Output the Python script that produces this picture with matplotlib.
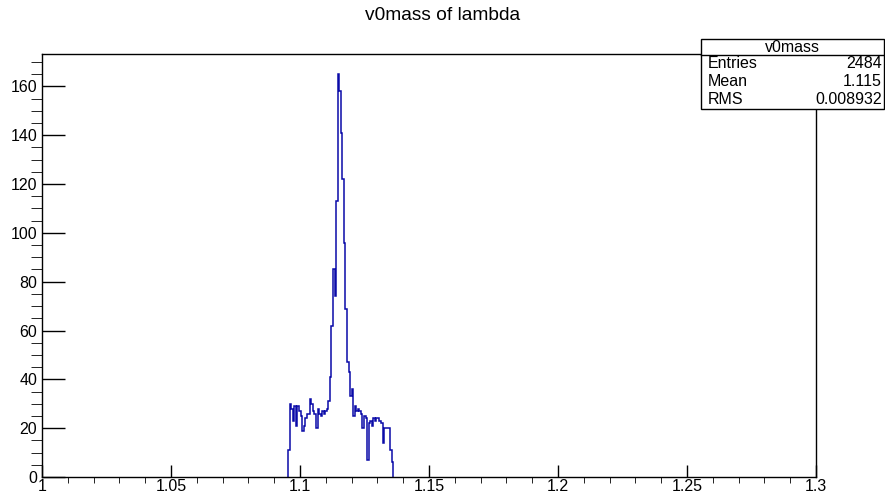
import numpy as np
import matplotlib
matplotlib.use("Agg")
import matplotlib.pyplot as plt
from matplotlib.patches import Rectangle
from matplotlib.ticker import MultipleLocator, FormatStrFormatter

# histogram v0mass (500 bins over 1..1.3, only filled bins listed)
bin_lo = 1.0954
bin_width = 0.0006
counts = [11, 30, 28, 23, 29, 21, 29, 27, 25, 19, 21, 24, 26, 26, 32, 30, 27, 26, 20, 28,
          26, 25, 27, 26, 27, 28, 31, 41, 62, 85, 74, 113, 165, 158, 141, 122, 96, 69, 47, 43,
          33, 36, 25, 29, 27, 28, 27, 26, 20, 25, 24, 7, 22, 23, 21, 24, 23, 24, 24, 23,
          22, 14, 20, 20, 20, 20, 11, 6]

titulo = "v0mass of lambda"
stats_nombre = "v0mass"
stats_filas = [("Entries", "2484"), ("Mean", "1.115"), ("RMS", "0.008932")]

plt.rcParams['font.family'] = ['Liberation Sans', 'DejaVu Sans']

W, H = 885, 495
fig = plt.figure(figsize=(W / 100, H / 100), dpi=100)

# ejes en pixeles
x0, x1, ytop, ybot = 42, 816, 54, 477
ax = fig.add_axes([x0 / W, 1 - ybot / H, (x1 - x0) / W, (ybot - ytop) / H])

edges = bin_lo + bin_width * np.arange(len(counts) + 1)
ax.stairs(counts, edges, color='#0a0aa8', linewidth=1.1)

ax.set_xlim(1, 1.3)
ax.set_ylim(0, 1.05 * max(counts))

ax.xaxis.set_major_locator(MultipleLocator(0.05))
ax.xaxis.set_minor_locator(MultipleLocator(0.01))
ax.yaxis.set_major_locator(MultipleLocator(20))
ax.yaxis.set_minor_locator(MultipleLocator(5))
ax.xaxis.set_major_formatter(FormatStrFormatter('%g'))

ax.tick_params(axis='both', direction='in', labelsize=11.5, width=1)
ax.tick_params(axis='y', which='major', length=16.5, pad=3.5)
ax.tick_params(axis='y', which='minor', length=8)
ax.tick_params(axis='x', which='major', length=8.5, pad=1.5)
ax.tick_params(axis='x', which='minor', length=4.3)
for s in ax.spines.values():
    s.set_linewidth(1)

fig.text(443 / W, 1 - 16 / H, titulo, ha='center', va='center', fontsize=13.8)

# caja de estadisticas
bx0, bx1, by0, by1 = 700.5, 884, 39, 109
fig.patches.append(Rectangle((bx0 / W, 1 - by1 / H), (bx1 - bx0) / W, (by1 - by0) / H,
                             transform=fig.transFigure, facecolor='white',
                             edgecolor='black', linewidth=1, zorder=5))
sep = 55
fig.add_artist(plt.Line2D([bx0 / W, bx1 / W], [1 - sep / H, 1 - sep / H],
                          transform=fig.transFigure, color='black', linewidth=1, zorder=6))
fig.text((bx0 + bx1) / 2 / W, 1 - 47.5 / H, stats_nombre, ha='center', va='center',
         fontsize=11.5, zorder=7)
fila_h = (by1 - sep) / len(stats_filas)
for i, (nombre, valor) in enumerate(stats_filas):
    yc = sep + fila_h * (i + 0.5)
    fig.text(708 / W, 1 - yc / H, nombre, ha='left', va='center', fontsize=11.5, zorder=7)
    fig.text(882 / W, 1 - yc / H, valor, ha='right', va='center', fontsize=11.5, zorder=7)

fig.savefig('out.png', dpi=100)
